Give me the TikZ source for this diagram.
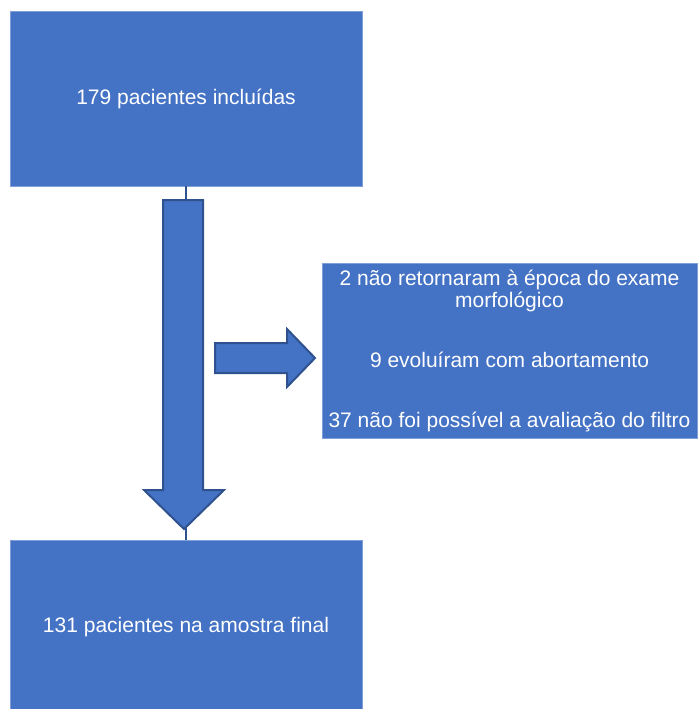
\documentclass[tikz,border=0pt]{standalone}
\usepackage{fontspec}
\setmainfont{Liberation Sans}
\usetikzlibrary{positioning}
\definecolor{boxblue}{HTML}{4472C4}
\definecolor{edgeblue}{HTML}{2F528F}
\definecolor{rimblue}{HTML}{7F9FD8}
\tikzset{
  stagebox/.style={fill=boxblue, draw=rimblue, line width=0.8pt, text=white,
    minimum width=352pt, minimum height=175pt, inner sep=0pt, align=center,
    font=\fontsize{21}{22}\selectfont},
  blockarrow/.style={fill=boxblue, draw=edgeblue, line width=2pt, line join=miter}
}
\begin{document}
\begin{tikzpicture}[x=1pt, y=-1pt]
    \useasboundingbox (0,0) rectangle (697,709);
    \path node (included) at (186,98.5) [stagebox] {179 pacientes incluídas}
          node (final) at (186,627.5) [stagebox] {131 pacientes na amostra final}
          node (excluded) at (509.5,350.5) [stagebox, minimum width=375pt]
               {2 não retornaram à época do exame\\ morfológico\\[38pt]
                9 evoluíram com abortamento\\[38pt]
                37 não foi possível a avaliação do filtro};
    \draw [edgeblue, line width=1.5pt] (included.south) -- (final.north);
    % big arrow down
    \draw [blockarrow] (163,200) -- (203,200) -- (203,490) -- (224,490)
          -- (184,529) -- (144,490) -- (163,490) -- cycle;
    % side arrow to the excluded patients
    \draw [blockarrow] (215,343) -- (287,343) -- (287,329) -- (315,358)
          -- (287,387) -- (287,373) -- (215,373) -- cycle;
\end{tikzpicture}
\end{document}
